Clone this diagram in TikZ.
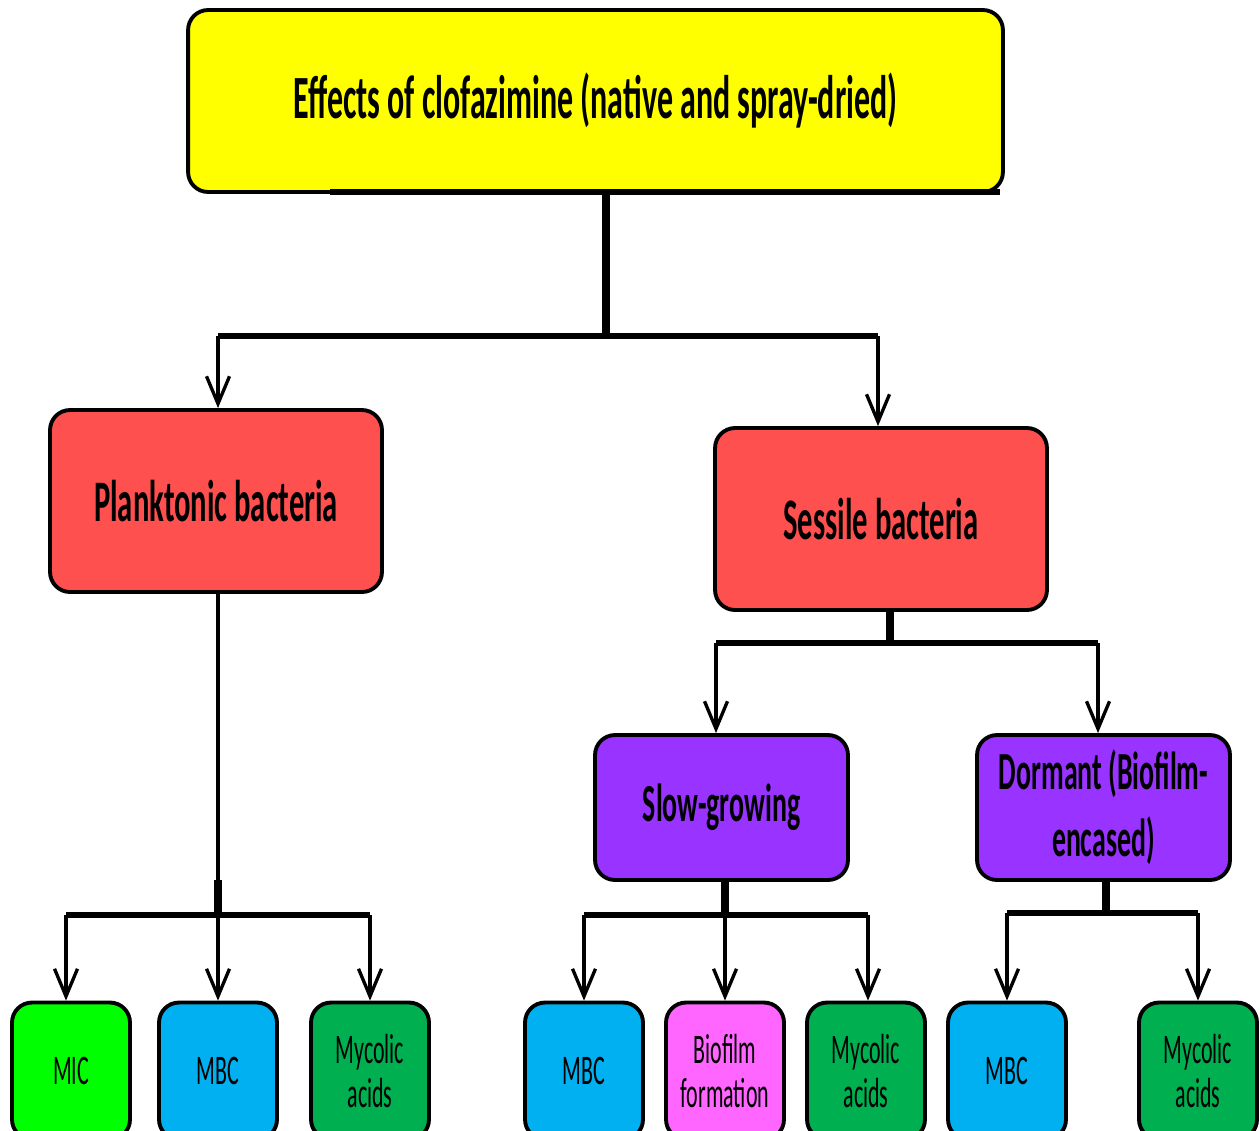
\documentclass[tikz,border=0pt]{standalone}
\usepackage{fontspec}
\setmainfont{Carlito}
\newfontfamily\narrowfont[FakeStretch=0.52]{Carlito}
\usetikzlibrary{arrows.meta}
\definecolor{topyellow}{HTML}{FFFF00}
\definecolor{boxred}{HTML}{FF5050}
\definecolor{boxpurple}{HTML}{9933FF}
\definecolor{micgreen}{HTML}{00FF00}
\definecolor{mbcblue}{HTML}{00B0F0}
\definecolor{acidgreen}{HTML}{00B050}
\definecolor{filmpink}{HTML}{FF66FF}
\begin{document}
\begin{tikzpicture}[x=0.02cm, y=-0.02cm,
    box/.style={draw, line width=2.2pt, rounded corners=0.4cm, align=center, inner sep=0pt},
    bigbox/.style={box, minimum width=6.64cm, minimum height=3.64cm, fill=boxred, font=\narrowfont\bfseries\fontsize{33.5}{38}\selectfont},
    midbox/.style={box, minimum width=5.06cm, minimum height=2.9cm, fill=boxpurple, font=\narrowfont\bfseries\fontsize{30.5}{38}\selectfont},
    leaf/.style={box, minimum width=2.36cm, minimum height=2.74cm, font=\narrowfont\fontsize{24}{25}\selectfont},
    stem/.style={line width=4.5pt},
    bar/.style={line width=3.4pt},
    branch/.style={line width=1.9pt, -{Straight Barb[length=0.55cm, width=0.46cm, line width=1.9pt]}}]
    \useasboundingbox (0,0) rectangle (1260,1130);

    % Title
    \node[box, fill=topyellow, minimum width=16.3cm, minimum height=3.64cm, font=\narrowfont\bfseries\fontsize{35}{40}\selectfont] (title) at (595.5,101) {Effects of clofazimine (native and spray-dried)};

    % Bacteria types
    \node[bigbox] (plank) at (216,501) {Planktonic bacteria};
    \node[bigbox] (sess) at (881,519) {Sessile bacteria};

    % Sessile subtypes
    \node[midbox] (slow) at (721.5,807.5) {Slow-growing};
    \node[midbox] (dorm) at (1103.5,807.5) {Dormant (Biofilm-\\encased)};

    % Measured effects
    \node[leaf, fill=micgreen] (mic) at (71,1071) {MIC};
    \node[leaf, fill=mbcblue] (pmbc) at (218,1071) {MBC};
    \node[leaf, fill=acidgreen] (pacid) at (370,1071) {Mycolic\\acids};
    \node[leaf, fill=mbcblue] (smbc) at (584,1071) {MBC};
    \node[leaf, fill=filmpink] (film) at (725,1071) {Biofilm\\formation};
    \node[leaf, fill=acidgreen] (sacid) at (866,1071) {Mycolic\\acids};
    \node[leaf, fill=mbcblue] (dmbc) at (1007,1071) {MBC};
    \node[leaf, fill=acidgreen] (dacid) at (1198,1071) {Mycolic\\acids};

    % Junction points
    \coordinate (t1) at (606,336);
    \coordinate (p1) at (218,915);
    \coordinate (p0) at (66,915);
    \coordinate (s1) at (890,643);
    \coordinate (s0) at (716,643);
    \coordinate (g1) at (725,915);
    \coordinate (g2) at (868,915);
    \coordinate (d1) at (1106,913);

    % Title to bacteria
    \draw[bar] (330,192) -- (1000,192);
    \draw[stem] (title.south -| t1) -- (t1);
    \draw[bar] (218,336) -- (878,336);
    \draw[branch] (218,336) -- (plank.north -| 218,0);
    \draw[branch] (878,336) -- (sess.north -| 878,0);

    % Planktonic to effects
    \draw[line width=1.9pt] (plank.south -| p1) -- (p1);
    \draw[stem] (218,880) -- (p1);
    \draw[bar] (p0) -- (pacid.north |- p1);
    \draw[branch] (p0) -- (mic.north -| p0);
    \draw[branch] (p1) -- (pmbc.north);
    \draw[branch] (pacid.north |- p1) -- (pacid.north);

    % Sessile to subtypes
    \draw[stem] (sess.south -| s1) -- (s1);
    \draw[bar] (s0) -- (1098,643);
    \draw[branch] (s0) -- (slow.north -| s0);
    \draw[branch] (1098,643) -- (dorm.north -| 1098,0);

    % Slow-growing to effects
    \draw[stem] (slow.south -| g1) -- (g1);
    \draw[bar] (smbc.north |- g1) -- (g2);
    \draw[branch] (smbc.north |- g1) -- (smbc.north);
    \draw[branch] (g1) -- (film.north);
    \draw[branch] (g2) -- (sacid.north -| g2);

    % Dormant to effects
    \draw[stem] (dorm.south -| d1) -- (d1);
    \draw[bar] (dmbc.north |- d1) -- (dacid.north |- d1);
    \draw[branch] (dmbc.north |- d1) -- (dmbc.north);
    \draw[branch] (dacid.north |- d1) -- (dacid.north);
\end{tikzpicture}
\end{document}
